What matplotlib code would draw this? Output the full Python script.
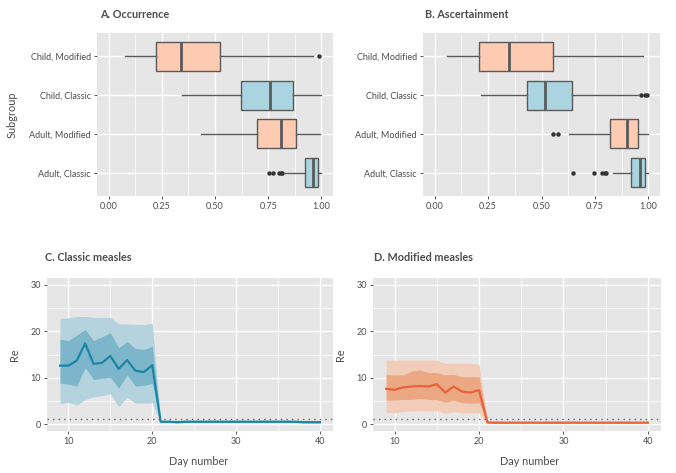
import matplotlib
matplotlib.use("Agg")
import matplotlib.pyplot as plt
import numpy as np

plt.rcParams['font.family'] = ['Lato', 'DejaVu Sans']

# ---------------- Data ----------------
subgroups = ["Child, Modified", "Child, Classic", "Adult, Modified", "Adult, Classic"]
box_type = ["Modified", "Classic", "Modified", "Classic"]

# Panel A: Occurrence
occ_whislo = [0.079, 0.343, 0.433, 0.827]
occ_q1     = [0.224, 0.620, 0.698, 0.921]
occ_med    = [0.339, 0.759, 0.811, 0.961]
occ_q3     = [0.523, 0.866, 0.879, 0.984]
occ_whishi = [0.961, 1.000, 0.995, 0.997]
occ_fliers = [[0.989], [], [], [0.756, 0.775, 0.803, 0.810, 0.816]]

# Panel B: Ascertainment
asc_whislo = [0.056, 0.216, 0.629, 0.835]
asc_q1     = [0.205, 0.430, 0.822, 0.921]
asc_med    = [0.347, 0.515, 0.901, 0.961]
asc_q3     = [0.556, 0.641, 0.954, 0.986]
asc_whishi = [0.974, 0.950, 1.000, 0.997]
asc_fliers = [[], [0.968, 0.986, 0.995], [0.556, 0.575], [0.646, 0.745, 0.785, 0.796, 0.804]]

days = list(range(9, 41))

# Panel C: Classic measles Re
c_med = [12.6, 12.6, 13.7, 17.4, 13.0, 13.2, 14.7, 11.9, 13.8, 11.5, 11.2, 12.7,
         0.5, 0.5, 0.4, 0.5, 0.5, 0.5, 0.5, 0.5, 0.5, 0.5, 0.5, 0.5, 0.5, 0.5, 0.5, 0.5, 0.5, 0.4, 0.4, 0.4]
c_in_lo = [8.8, 8.6, 8.2, 12.2, 9.6, 9.9, 10.1, 7.7, 10.6, 8.2, 8.3, 8.8,
           0.4, 0.4, 0.3, 0.4, 0.4, 0.4, 0.4, 0.4, 0.4, 0.4, 0.4, 0.4, 0.4, 0.4, 0.4, 0.4, 0.4, 0.3, 0.3, 0.3]
c_in_hi = [18.3, 18.0, 19.2, 20.4, 18.0, 18.8, 19.7, 16.5, 17.8, 16.3, 16.1, 16.8,
           0.6, 0.6, 0.5, 0.6, 0.6, 0.6, 0.6, 0.6, 0.6, 0.6, 0.6, 0.6, 0.6, 0.6, 0.6, 0.6, 0.6, 0.5, 0.5, 0.5]
c_out_lo = [4.3, 4.7, 4.1, 5.3, 5.9, 6.1, 6.5, 3.7, 5.8, 4.5, 4.5, 4.6,
            0.3, 0.3, 0.2, 0.3, 0.3, 0.3, 0.3, 0.3, 0.3, 0.3, 0.3, 0.3, 0.3, 0.3, 0.3, 0.3, 0.3, 0.2, 0.2, 0.2]
c_out_hi = [22.8, 22.9, 23.2, 23.2, 23.0, 23.0, 23.0, 21.6, 21.6, 21.5, 21.5, 21.7,
            0.8, 0.8, 0.7, 0.8, 0.8, 0.8, 0.8, 0.8, 0.8, 0.8, 0.8, 0.8, 0.8, 0.8, 0.8, 0.8, 0.8, 0.7, 0.7, 0.7]

# Panel D: Modified measles Re
d_med = [7.6, 7.4, 7.9, 8.1, 8.2, 8.1, 8.6, 6.8, 8.1, 7.0, 6.8, 7.3,
         0.35, 0.3, 0.3, 0.3, 0.3, 0.3, 0.3, 0.3, 0.3, 0.3, 0.3, 0.3, 0.3, 0.3, 0.3, 0.3, 0.3, 0.3, 0.3, 0.3]
d_in_lo = [5.2, 5.2, 5.3, 5.3, 5.5, 5.3, 5.3, 4.7, 5.2, 4.6, 4.5, 4.6,
           0.25, 0.2, 0.2, 0.2, 0.2, 0.2, 0.2, 0.2, 0.2, 0.2, 0.2, 0.2, 0.2, 0.2, 0.2, 0.2, 0.2, 0.2, 0.2, 0.2]
d_in_hi = [10.7, 10.6, 10.6, 11.4, 11.7, 11.1, 11.1, 10.6, 10.7, 10.2, 10.2, 10.2,
           0.45, 0.4, 0.4, 0.4, 0.4, 0.4, 0.4, 0.4, 0.4, 0.4, 0.4, 0.4, 0.4, 0.4, 0.4, 0.4, 0.4, 0.4, 0.4, 0.4]
d_out_lo = [2.5, 2.4, 2.7, 2.8, 2.9, 2.8, 2.9, 2.3, 2.7, 2.4, 2.4, 2.4,
            0.15, 0.1, 0.1, 0.1, 0.1, 0.1, 0.1, 0.1, 0.1, 0.1, 0.1, 0.1, 0.1, 0.1, 0.1, 0.1, 0.1, 0.1, 0.1, 0.1]
d_out_hi = [13.8, 13.8, 13.8, 13.8, 13.8, 13.8, 13.8, 13.1, 13.1, 13.1, 13.1, 12.9,
            0.6, 0.5, 0.5, 0.5, 0.5, 0.5, 0.5, 0.5, 0.5, 0.5, 0.5, 0.5, 0.5, 0.5, 0.5, 0.5, 0.5, 0.5, 0.5, 0.5]

threshold = 1

# ---------------- Style ----------------
BG = "#e6e6e6"
TXT = "#4d4d4d"
FILL = {"Modified": "#fccbb1", "Classic": "#a9d4e0"}
EDGE = "#5a5a5a"
BLUE = "#1a86a6"
ORANGE = "#e8623a"

fig = plt.figure(figsize=(6.76, 4.73), dpi=100)
W, H = 676, 473

def add_ax(l, t, r, b):
    return fig.add_axes([l / W, 1 - b / H, (r - l) / W, (b - t) / H])

def style(ax):
    ax.set_facecolor(BG)
    for s in ax.spines.values():
        s.set_visible(False)
    ax.tick_params(axis='both', colors="#555555", labelcolor=TXT, labelsize=6.5,
                   length=2.5, width=0.7, pad=2)
    ax.tick_params(which='minor', length=0)
    ax.grid(which='major', color='white', lw=1.0, zorder=0)
    ax.grid(which='minor', color='white', lw=0.5, zorder=0)
    ax.set_axisbelow(True)

def boxpanel(ax, lo, q1, med, q3, hi, fl, title, tx):
    stats = []
    for i in range(len(subgroups)):
        stats.append(dict(whislo=lo[i], q1=q1[i], med=med[i], q3=q3[i], whishi=hi[i],
                          fliers=fl[i], label=subgroups[i]))
    pos = np.arange(len(subgroups), 0, -1)
    bp = ax.bxp(stats, positions=pos, vert=False, widths=0.75, patch_artist=True,
                showcaps=False,
                boxprops=dict(edgecolor=EDGE, linewidth=1.0),
                whiskerprops=dict(color=EDGE, linewidth=1.0),
                medianprops=dict(color=EDGE, linewidth=2.0),
                flierprops=dict(marker='o', markerfacecolor='#333333', markeredgecolor='#333333',
                                markersize=2.2, linestyle='none'))
    for patch, t in zip(bp['boxes'], box_type):
        patch.set_facecolor(FILL[t])
    style(ax)
    ax.set_xlim(-0.055, 1.055)
    ax.set_ylim(0.4, 4.6)
    ax.set_xticks([0, 0.25, 0.5, 0.75, 1.0])
    ax.set_xticklabels(["0.00", "0.25", "0.50", "0.75", "1.00"])
    ax.set_xticks([0.125, 0.375, 0.625, 0.875], minor=True)
    ax.set_yticks(pos)
    ax.set_yticklabels(subgroups)
    fig.text(tx / W, 1 - 14 / H, title, fontsize=7.8, fontweight='bold', color=TXT,
             ha='left', va='center')

axA = add_ax(97, 33, 333, 196)
boxpanel(axA, occ_whislo, occ_q1, occ_med, occ_q3, occ_whishi, occ_fliers, "A. Occurrence", 100)
axA.set_ylabel("Subgroup", fontsize=7.8, color=TXT, labelpad=8)

axB = add_ax(423, 33, 660, 196)
boxpanel(axB, asc_whislo, asc_q1, asc_med, asc_q3, asc_whishi, asc_fliers, "B. Ascertainment", 425)

def repanel(ax, med, ilo, ihi, olo, ohi, color, outc, inc, title, tx, xlab_x):
    ax.fill_between(days, olo, ohi, color=outc, lw=0, zorder=2)
    ax.fill_between(days, ilo, ihi, color=inc, lw=0, zorder=3)
    ax.plot(days, med, color=color, lw=1.6, zorder=4)
    ax.axhline(threshold, color="#666666", lw=1.0, ls=(0, (1, 3)), zorder=5)
    style(ax)
    ax.set_xlim(7.45, 41.55)
    ax.set_ylim(-1.5, 31.5)
    ax.set_xticks([10, 20, 30, 40])
    ax.set_xticks([15, 25, 35], minor=True)
    ax.set_yticks([0, 10, 20, 30])
    ax.set_yticks([5, 15, 25], minor=True)
    ax.set_xlabel("Day number", fontsize=7.8, color=TXT)
    ax.xaxis.set_label_coords(xlab_x, -0.165)
    ax.set_ylabel("Re", fontsize=7.8, color=TXT)
    ax.yaxis.set_label_coords(-0.095, 0.5)
    fig.text(tx / W, 1 - 257 / H, title, fontsize=7.8, fontweight='bold', color=TXT,
             ha='left', va='center')

axC = add_ax(47, 278, 333, 431)
repanel(axC, c_med, c_in_lo, c_in_hi, c_out_lo, c_out_hi, BLUE, "#b5d3de", "#7db6ca",
        "C. Classic measles", 45, 0.53)

axD = add_ax(373, 278, 661, 431)
repanel(axD, d_med, d_in_lo, d_in_hi, d_out_lo, d_out_hi, ORANGE, "#f1cdb9", "#eca783",
        "D. Modified measles", 374, 0.545)

fig.savefig("out.png", dpi=100, facecolor='white')
